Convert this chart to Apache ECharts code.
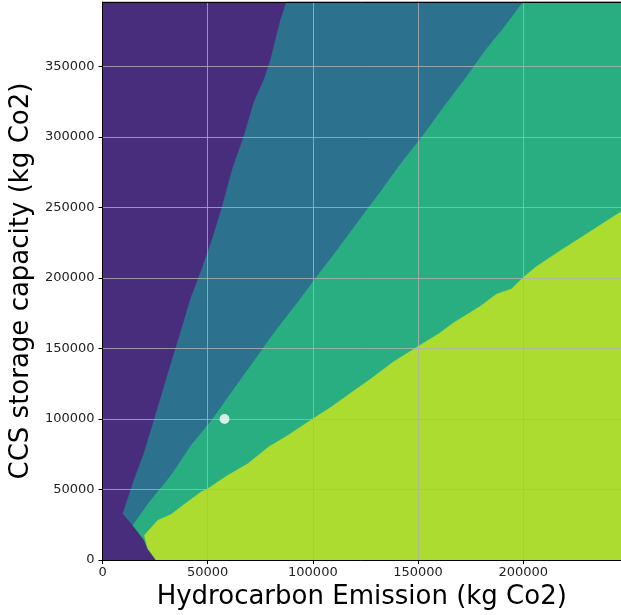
<!DOCTYPE html>
<html>
<head>
<meta charset="utf-8">
<script src="https://cdn.jsdelivr.net/npm/echarts@6/dist/echarts.min.js"></script>
<style>
html,body{margin:0;padding:0;background:#fff;}
#chart{width:621px;height:615px;}
</style>
</head>
<body>
<div id="chart"></div>
<script>
// Axis extents
const xMax = 246500;
const yMax = 395500;
const xTicks = [0, 50000, 100000, 150000, 200000];
const yTicks = [0, 50000, 100000, 150000, 200000, 250000, 300000, 350000];

// Contour boundaries (data units)
// purple / teal boundary, top to bottom
const boundaryPurpleTeal = [
  [87500, 395500], [84700, 383100], [82300, 369000], [80000, 354900],
  [76800, 340800], [72000, 324400], [67300, 300800], [61800, 277400],
  [57100, 251500], [52300, 228000], [46800, 204500], [42000, 185700],
  [36800, 159800], [31000, 131600], [24400, 98700], [19600, 75200],
  [14900, 56400], [9700, 32900]
];
// lower-left purple edge, top to bottom
const boundaryPurpleBottom = [
  [9700, 32900], [14400, 24700], [19900, 14100], [21500, 8200], [25500, 0]
];
// teal / green boundary, top to bottom
const boundaryTealGreen = [
  [200000, 395500], [191300, 378400], [181800, 360800], [171600, 339600],
  [162100, 320900], [151800, 299700], [142400, 282100], [132100, 260900],
  [122600, 242100], [111600, 219700], [101300, 199800], [92600, 182200],
  [81500, 161000], [72000, 141000], [61800, 119900], [52300, 99900],
  [42000, 81100], [32600, 59900], [22300, 41100], [14400, 24700]
];
// green / yellow boundary, bottom-left to top-right
const boundaryGreenYellow = [
  [19900, 17600], [26300, 28200], [32600, 32400], [38900, 39500],
  [46800, 48200], [50000, 50500], [59400, 59900], [68900, 68100],
  [79100, 80400], [87900, 88200], [99700, 99900], [108400, 108100],
  [119400, 119900], [127300, 128100], [138400, 140600], [150200, 151600],
  [159700, 160300], [166800, 168100], [179500, 179800], [187400, 188500],
  [194500, 192200], [200000, 200300], [206300, 208000], [218900, 220500],
  [226900, 228000], [239500, 240200], [246500, 246800]
];
// marked point
const markedPoint = [[58000, 100000]];

const colors = ['#472d7b', '#2c728e', '#28ae80', '#addc30'];

// Region polygons built from the boundaries
const regionPurple = [[0, 0], [xMax, 0], [xMax, yMax], [0, yMax]];
const regionTeal = [].concat(boundaryPurpleTeal, boundaryPurpleBottom.slice(1), [[xMax, 0], [xMax, yMax]]);
const regionGreen = [].concat(boundaryTealGreen, boundaryPurpleBottom.slice(2), [[xMax, 0], [xMax, yMax]]);
const regionYellow = [].concat([[25500, 0], [21500, 8200]], boundaryGreenYellow, [[xMax, 0]]);

function polySeries(points, color) {
  return {
    type: 'custom',
    silent: true,
    data: [0],
    renderItem: function (params, api) {
      const pts = points.map(p => api.coord(p));
      return {
        type: 'polygon',
        shape: { points: pts },
        style: { fill: color, stroke: color, lineWidth: 0.5 }
      };
    },
    z: 2
  };
}

const font = 'DejaVu Sans';
const chart = echarts.init(document.getElementById('chart'));
chart.setOption({
  animation: false,
  backgroundColor: '#ffffff',
  grid: { left: 101, right: 0, top: 2, bottom: 52, containLabel: false },
  xAxis: [{
    type: 'value', min: 0, max: xMax, interval: 50000, z: 5,
    name: 'Hydrocarbon Emission (kg Co2)', nameLocation: 'middle', nameGap: 21,
    nameTextStyle: { fontFamily: font, fontSize: 26, color: '#000' },
    axisLine: { show: true, lineStyle: { color: '#000', width: 1 } },
    axisTick: { show: true, length: 4, lineStyle: { color: '#000' } },
    axisLabel: {
      fontFamily: font, fontSize: 13, color: '#222', margin: 6,
      showMaxLabel: false,
      formatter: v => xTicks.indexOf(v) >= 0 ? String(v) : ''
    },
    splitLine: { show: true, lineStyle: { color: 'rgba(176,176,176,0.8)', width: 1 } }
  }, {
    type: 'value', min: 0, max: xMax, position: 'top', z: 5,
    axisLine: { show: true, lineStyle: { color: '#000', width: 1 } },
    axisTick: { show: false }, axisLabel: { show: false }, splitLine: { show: false }
  }],
  yAxis: {
    type: 'value', min: 0, max: yMax, interval: 50000, z: 5,
    name: 'CCS storage capacity (kg Co2)', nameLocation: 'middle', nameGap: 57,
    nameTextStyle: { fontFamily: font, fontSize: 26, color: '#000' },
    axisLine: { show: true, lineStyle: { color: '#000', width: 1 } },
    axisTick: { show: true, length: 4, lineStyle: { color: '#000' } },
    axisLabel: {
      fontFamily: font, fontSize: 13, color: '#222', margin: 8,
      showMaxLabel: false,
      formatter: v => yTicks.indexOf(v) >= 0 ? String(v) : ''
    },
    splitLine: { show: true, lineStyle: { color: 'rgba(176,176,176,0.8)', width: 1 } }
  },
  series: [
    polySeries(regionPurple, colors[0]),
    polySeries(regionTeal, colors[1]),
    polySeries(regionGreen, colors[2]),
    polySeries(regionYellow, colors[3]),
    {
      type: 'scatter', data: markedPoint, symbolSize: 10, z: 10, silent: true,
      itemStyle: { color: '#ffffff' }
    }
  ]
});
</script>
</body>
</html>
